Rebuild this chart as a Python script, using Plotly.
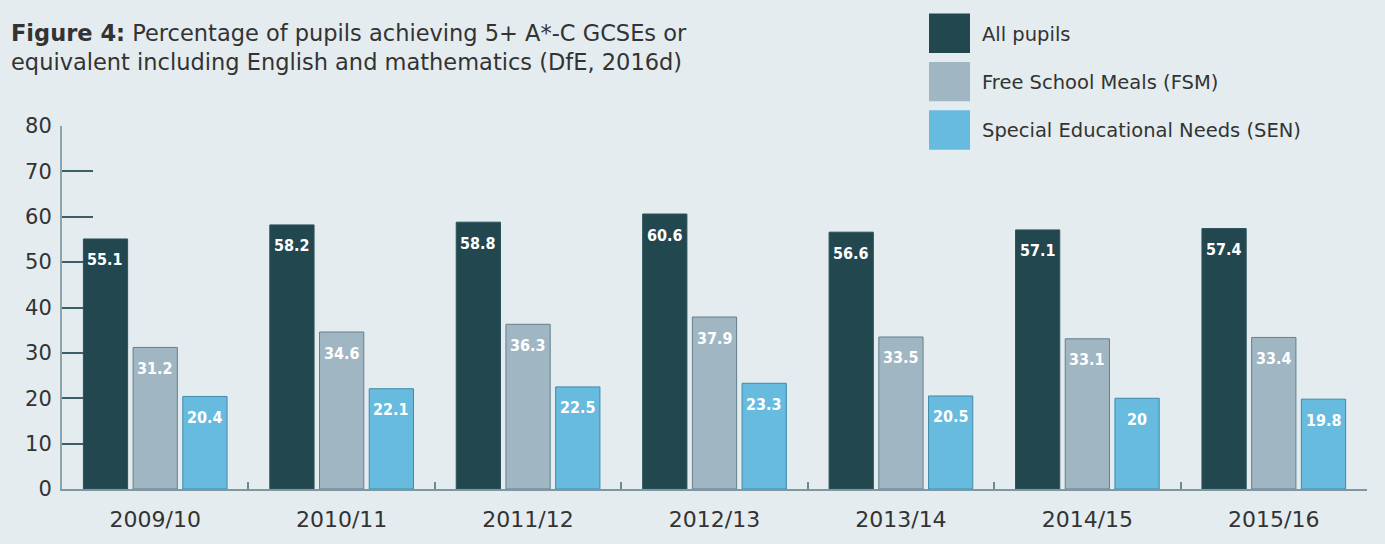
import plotly.graph_objects as go

# --- data ---
years = ["2009/10", "2010/11", "2011/12", "2012/13", "2013/14", "2014/15", "2015/16"]
all_pupils = [55.1, 58.2, 58.8, 60.6, 56.6, 57.1, 57.4]
fsm = [31.2, 34.6, 36.3, 37.9, 33.5, 33.1, 33.4]
sen = [20.4, 22.1, 22.5, 23.3, 20.5, 20, 19.8]

series_names = ["All pupils", "Free School Meals (FSM)", "Special Educational Needs (SEN)"]
series_values = [all_pupils, fsm, sen]
fill_colors = ["#22474f", "#a0b6c3", "#67bbdf"]
edge_colors = ["#2d525a", "#61808b", "#3f8aa8"]

y_ticks = [0, 10, 20, 30, 40, 50, 60, 70, 80]

W, H = 1385, 544
M_L, M_R, M_T, M_B = 62, 18, 126, 50
PLOT_W = W - M_L - M_R
BARGAP = 0.2
FONT = "DejaVu Sans"
TEXT_COL = "#333333"
BG = "#e4ecf0"


# pixel -> paper coordinates (for the title and the hand-drawn legend)
def px(x):
    return (x - M_L) / PLOT_W


def py(y):
    return (H - M_B - y) / (H - M_T - M_B)


fig = go.Figure()
for name, vals, fc, ec in zip(series_names, series_values, fill_colors, edge_colors):
    fig.add_trace(
        go.Bar(
            name=name,
            x=years,
            y=vals,
            marker=dict(color=fc, line=dict(color=ec, width=1)),
            showlegend=False,
            hoverinfo="skip",
        )
    )

annotations = []

# value labels sit a little below the top of each bar
slot_px = (1 - BARGAP) / len(series_values) * PLOT_W / len(years)
for k, vals in enumerate(series_values):
    for yr, v in zip(years, vals):
        annotations.append(
            dict(x=yr, y=v, xref="x", yref="y", showarrow=False,
                 xshift=(k - 1) * slot_px, yshift=-21, yanchor="middle",
                 text=f"{v:g}",
                 font=dict(family="DejaVu Sans Condensed", size=16,
                           color="white", weight="bold"))
        )

# legend drawn by hand: big square swatches with labels
shapes = []
for i, (name, fc) in enumerate(zip(series_names, fill_colors)):
    top = 12 + i * 49
    shapes.append(
        dict(type="rect", xref="paper", yref="paper",
             x0=px(929), x1=px(970), y0=py(top + 40), y1=py(top),
             fillcolor=fc, line=dict(width=0))
    )
    annotations.append(
        dict(xref="paper", yref="paper", x=px(980), y=py(top + 21),
             xanchor="left", yanchor="middle", showarrow=False,
             text=name, font=dict(family=FONT, size=19.5, color=TEXT_COL))
    )

annotations.append(
    dict(xref="paper", yref="paper", x=px(9), y=py(17),
         xanchor="left", yanchor="top", align="left", showarrow=False,
         text="<b>Figure 4:</b> Percentage of pupils achieving 5+ A*-C GCSEs or<br>"
              "equivalent including English and mathematics (DfE, 2016d)",
         font=dict(family=FONT, size=22.5, color=TEXT_COL))
)

fig.update_layout(
    width=W,
    height=H,
    margin=dict(l=M_L, r=M_R, t=M_T, b=M_B),
    paper_bgcolor=BG,
    plot_bgcolor=BG,
    font=dict(family=FONT, color=TEXT_COL),
    barmode="group",
    bargap=BARGAP,
    bargroupgap=0.11,
    shapes=shapes,
    annotations=annotations,
    xaxis=dict(
        type="category",
        showline=True,
        linecolor="#7f979f",
        linewidth=2,
        ticks="inside",
        tickson="boundaries",
        ticklen=7,
        tickwidth=1.5,
        tickcolor="#6f8790",
        showgrid=False,
        tickfont=dict(family=FONT, size=22, color=TEXT_COL),
        ticklabelstandoff=10,
    ),
    yaxis=dict(
        range=[0, 80],
        tickvals=y_ticks,
        showline=True,
        linecolor="#8ea4ab",
        linewidth=2,
        ticks="inside",
        ticklen=31,
        tickwidth=1.5,
        tickcolor="#3e5e66",
        showgrid=False,
        zeroline=False,
        layer="below traces",
        tickfont=dict(family=FONT, size=21, color=TEXT_COL),
        ticklabelstandoff=4,
    ),
)

fig.write_html(
    "out.html",
    config={"displayModeBar": False},
    post_script="document.body.style.margin='0';document.body.style.overflow='hidden';",
)
